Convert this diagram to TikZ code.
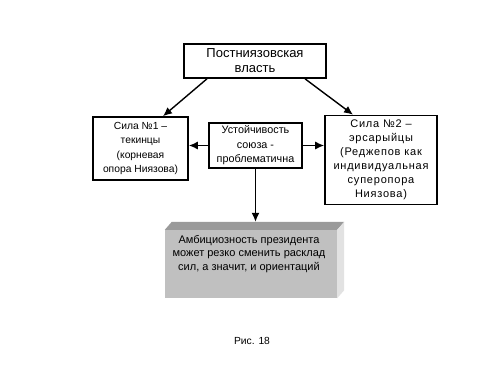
\documentclass[tikz,border=0pt]{standalone}
\usepackage{fontspec}
\setmainfont{Liberation Sans}
\newfontfamily\widefont[LetterSpace=7]{Liberation Sans}
\usetikzlibrary{arrows.meta,calc}
\definecolor{frontgray}{HTML}{C0C0C0}
\definecolor{topgray}{HTML}{9A9A9A}
\definecolor{sidegray}{HTML}{E2E2E2}
\tikzset{
  box/.style={draw=black,line width=1.6pt,fill=white,align=center,inner sep=0pt,
    font=\fontsize{10.3}{14.5}\selectfont},
  arr/.style={line width=1.4pt,-{Latex[length=9pt,width=8pt]}},
  txt/.style={align=center,font=\fontsize{10.3}{14.5}\selectfont,inner sep=0pt}
}
\begin{document}
\begin{tikzpicture}[x=1pt,y=-1pt]
\useasboundingbox[fill=white] (0,0) rectangle (500,375);
\node[box,minimum width=142pt,minimum height=34pt,font=\fontsize{13}{15}\selectfont] (top) at (255,61) {Постниязовская\\власть};
\node[box,minimum width=95pt,minimum height=63pt] (left) at (140.5,148.5) {Сила №1 –\\текинцы\\(корневая\\опора Ниязова)};
\node[box,minimum width=93pt,minimum height=45pt,font=\fontsize{10.8}{14.5}\selectfont] (mid) at (255.5,145.5) {Устойчивость\\союза -\\проблематична};
\node[box,minimum width=112pt,minimum height=89pt,font=\widefont\fontsize{11}{14}\selectfont] (right) at (381,160) {Сила №2 –\\эрсарыйцы\\(Реджепов как\\индивидуальная\\суперопора\\Ниязова)};
% 3D bottom box
\node[fill=frontgray,minimum width=172pt,minimum height=68pt,inner sep=0pt] (bot) at (251,264) {};
\fill[topgray] (bot.north west) -- ++(7,-8) -- ($(bot.north east)+(7,-8)$) -- (bot.north east) -- cycle;
\fill[sidegray] (bot.north east) -- ++(7,-8) -- ($(bot.south east)+(7,-8)$) -- (bot.south east) -- cycle;
\node[txt,font=\fontsize{11}{13.8}\selectfont] (bottxt) at (249,254) {Амбициозность президента\\может резко сменить расклад\\сил, а значит, и ориентаций};
\coordinate (botface) at ($(bot.north)+(0,-8)$);
% connectors
\draw[arr] ([xshift=-48pt]top.south) -- ([xshift=22.5pt]left.north);
\draw[arr] ([xshift=50pt]top.south) -- ([xshift=-28pt]right.north);
\draw[arr] (mid.west) -- (mid.west -| left.east);
\draw[arr] (mid.east) -- (mid.east -| right.west);
\draw[arr] (mid.south) -- (mid.south |- botface);
\node[txt] (cap) at (252,341) {Рис. 18};
\end{tikzpicture}
\end{document}
